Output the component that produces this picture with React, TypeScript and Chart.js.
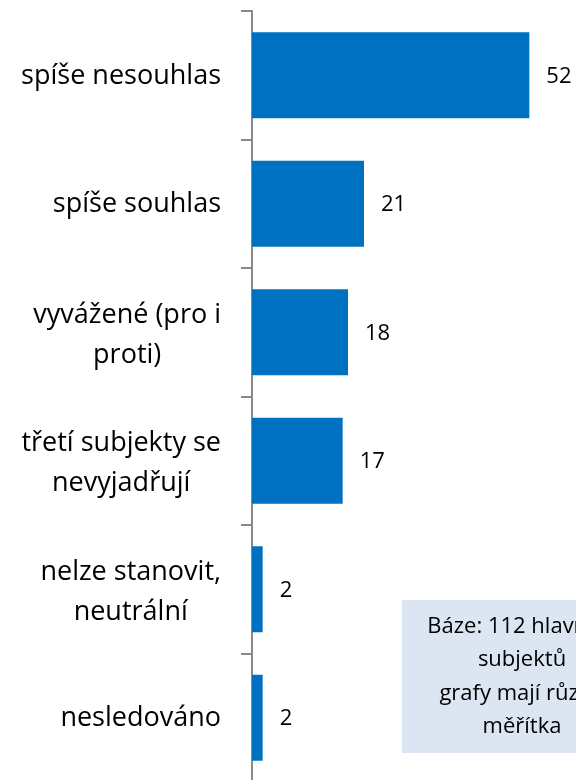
import React, { useEffect, useRef } from "react";
import { Chart, registerables } from "chart.js";

Chart.register(...registerables);

const categories: string[][] = [
  ["spíše nesouhlas"],
  ["spíše souhlas"],
  ["vyvážené (pro i", "proti)"],
  ["třetí subjekty se", "nevyjadřují"],
  ["nelze stanovit,", "neutrální"],
  ["nesledováno"],
];
const values: number[] = [52, 21, 18, 17, 2, 2];
const noteLines: string[] = ["Báze: 112 hlavních", "subjektů", "grafy mají různá", "měřítka"];

const FONT = "'Open Sans', 'Noto Sans', sans-serif";
const BAR_COLOR = "#0070C0";
const AXIS_COLOR = "#898989";

const overlayPlugin = {
  id: "overlay",
  afterDraw(chart: any) {
    const ctx = chart.ctx as CanvasRenderingContext2D;
    const yScale = chart.scales.y;
    const area = chart.chartArea;
    ctx.save();
    // category labels: block right-aligned, lines centered within block
    ctx.font = `27px ${FONT}`;
    ctx.fillStyle = "#000000";
    ctx.textBaseline = "middle";
    ctx.textAlign = "center";
    const rightEdge = area.left - 31;
    const lh = 40;
    categories.forEach((lines, i) => {
      const c = yScale.getPixelForValue(i);
      const widest = Math.max(...lines.map((l) => ctx.measureText(l).width));
      const cx = rightEdge - widest / 2;
      const n = lines.length;
      lines.forEach((line, j) => {
        const y = c + 1 + (j - (n - 1) / 2) * lh + (n > 1 ? 2 : 0);
        ctx.fillText(line, cx, y);
      });
    });
    // value labels
    const meta = chart.getDatasetMeta(0);
    ctx.font = `22px ${FONT}`;
    ctx.textAlign = "left";
    meta.data.forEach((bar: any, i: number) => {
      ctx.fillText(String(values[i]), bar.x + 17, bar.y + 1);
    });
    // note box
    const bx = 402;
    const by = 600;
    const bw = 240;
    const bh = 153;
    ctx.fillStyle = "#DCE6F2";
    ctx.fillRect(bx, by, bw, bh);
    ctx.fillStyle = "#000000";
    ctx.font = `22px ${FONT}`;
    ctx.textAlign = "center";
    const ys = [627, 660, 694, 727];
    noteLines.forEach((t, i) => ctx.fillText(t, bx + bw / 2, ys[i]));
    ctx.restore();
  },
};

export default function App() {
  const ref = useRef<HTMLCanvasElement>(null);
  useEffect(() => {
    if (!ref.current) return;
    const chart = new Chart(ref.current, {
      type: "bar",
      data: {
        labels: categories.map((c) => c.join(" ")),
        datasets: [
          {
            data: values,
            backgroundColor: BAR_COLOR,
            borderWidth: 0,
            categoryPercentage: 1,
            barPercentage: 0.67,
          },
        ],
      },
      options: {
        indexAxis: "y",
        responsive: false,
        animation: false,
        layout: { padding: { top: 11, bottom: 18, right: 4, left: 0 } },
        plugins: { legend: { display: false }, tooltip: { enabled: false } },
        scales: {
          x: { display: false, min: 0, max: 60 },
          y: {
            afterFit: (scale: any) => {
              scale.width = 252;
            },
            ticks: { display: false },
            grid: {
              display: true,
              drawOnChartArea: false,
              drawTicks: true,
              tickLength: 11,
              color: AXIS_COLOR,
              lineWidth: 2,
              offset: true,
            },
            border: { display: true, color: AXIS_COLOR, width: 2 },
          },
        },
      },
      plugins: [overlayPlugin],
    });
    return () => chart.destroy();
  }, []);
  return (
    <div
      style={{
        position: "fixed",
        left: 0,
        top: 0,
        width: 576,
        height: 780,
        overflow: "hidden",
        background: "#fff",
      }}
    >
      <canvas ref={ref} width={576} height={800} style={{ display: "block" }} />
    </div>
  );
}
